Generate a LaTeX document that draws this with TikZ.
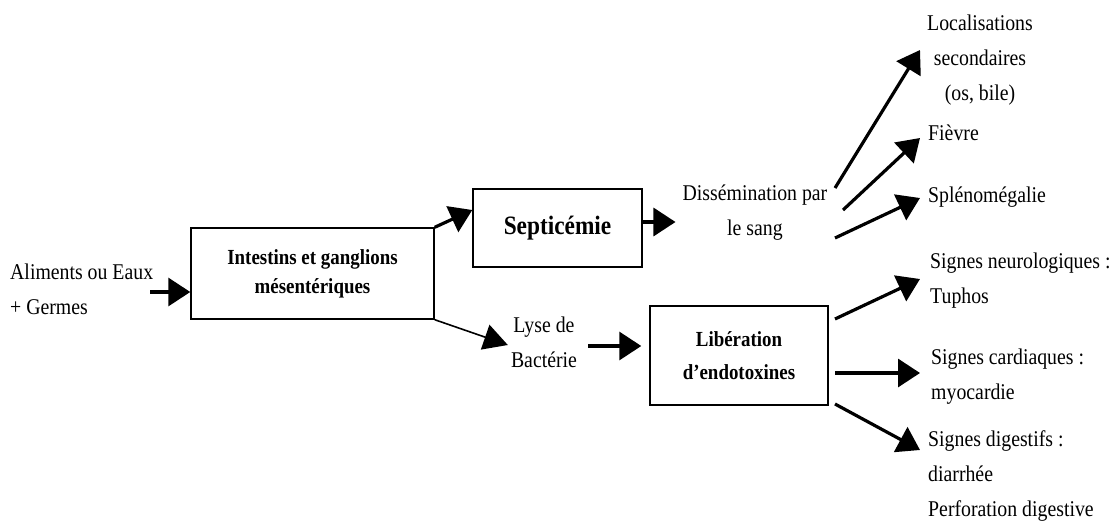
\documentclass[tikz,border=0pt]{standalone}
\usepackage{fontspec}
\setmainfont{Liberation Serif}[FakeStretch=0.88]
\usetikzlibrary{arrows.meta,calc}
\begin{document}
\begin{tikzpicture}[x=1pt,y=-1pt,
  box/.style={draw,line width=1.4pt,inner sep=0pt,align=center},
  txt/.style={inner sep=0pt,font=\fontsize{22.5}{35}\selectfont},
  btxt/.style={font=\fontsize{21.5}{29}\selectfont\bfseries},
  arr/.style={line width=3.2pt,-{Triangle[length=22pt,width=28pt]}},
  thinarr/.style={line width=1.6pt,-{Triangle[length=24pt,width=26pt]}}
]
\useasboundingbox[fill=white] (0,0) rectangle (1113,522);

% left input
\node[txt,align=left,anchor=west] (in) at (10,289) {Aliments ou Eaux\\+ Germes};

% boxes
\node[box,btxt,minimum width=243pt,minimum height=91pt] (b1) at (312.5,273.5) {Intestins et ganglions\\mésentériques};
\node[box,font=\fontsize{26.5}{29}\selectfont\bfseries,minimum width=169pt,minimum height=78pt,text depth=6pt] (sep) at (557.5,228) {Septicémie};
\node[box,font=\fontsize{21.5}{33}\selectfont\bfseries,minimum width=178pt,minimum height=99pt] (lib) at (739,355.5) {Libération\\d’endotoxines};

% middle texts
\node[txt,align=center] (dis) at (755,213) {Dissémination par\\le sang};
\node[txt,align=center] (lyse) at (544,342) {Lyse de\\Bactérie};

% right texts
\node[txt,align=center] (loc) at (980,60) {Localisations\\secondaires\\(os, bile)};
\node[txt,anchor=west] (fie) at (928,133) {Fièvre};
\node[txt,anchor=west] (spl) at (928,197) {Splénomégalie};
\node[txt,align=left,anchor=west] (neu) at (930,281) {Signes neurologiques :\\Tuphos};
\node[txt,align=left,anchor=west] (car) at (931,377) {Signes cardiaques :\\myocardie};
\node[txt,align=left,anchor=west] (dig) at (928,476) {Signes digestifs :\\diarrhée\\Perforation digestive};

% connector coordinates
\coordinate (d1) at (835,188);
\coordinate (d2) at (843,210);
\coordinate (d3) at (835,238);
\coordinate (t1) at (920,50);
\coordinate (t2) at (920,138);
\coordinate (t3) at (920,198);
\coordinate (l1) at (835,319);
\coordinate (l2) at (835,373);
\coordinate (l3) at (835,404);
\coordinate (u1) at (920,279);
\coordinate (u2) at (920,373);
\coordinate (u3) at (920,450);

% arrows
\draw[arr] (150,292) -- (b1.west |- 0,292);
\draw[arr] (b1.north east) -- ($(sep.west)+(0,-18)$);
\draw[arr] (sep.east |- 0,222) -- ($(dis.west |- 0,222)+(-7,0)$);
\draw[thinarr] (b1.south east) -- ($(lyse.west)+(-3,3)$);
\draw[arr] ($(lyse.east)+(11,4)$) -- ($(lib.west)+(-8,-9.5)$);

\draw[arr] (d1) -- (t1);
\draw[arr] (d2) -- (t2);
\draw[arr] (d3) -- (t3);
\draw[arr] (l1) -- (u1);
\draw[arr] (l2) -- (u2);
\draw[arr] (l3) -- (u3);
\end{tikzpicture}
\end{document}
